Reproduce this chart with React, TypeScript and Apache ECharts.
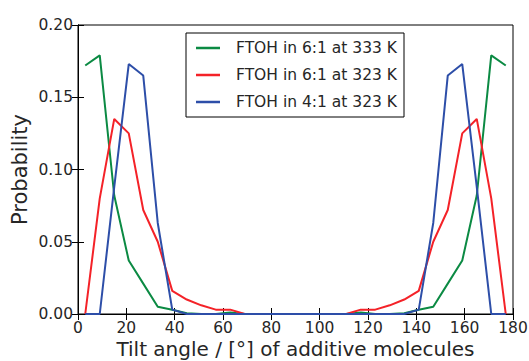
import React, { useEffect, useRef } from "react";
import * as echarts from "echarts";

const angles = [3, 9, 15, 21, 27, 33, 39, 45, 51, 57, 63, 69, 75, 81, 87, 93, 99, 105, 111, 117, 123, 129, 135, 141, 147, 153, 159, 165, 171, 177];

const green333 = [0.172, 0.179, 0.082, 0.037, 0.021, 0.005, 0.003, 0.0005, 0, 0, 0.001, 0, 0, 0, 0, 0, 0, 0, 0, 0.001, 0, 0, 0.0005, 0.003, 0.005, 0.021, 0.037, 0.082, 0.179, 0.172];
const red323 = [0, 0.080, 0.135, 0.125, 0.072, 0.050, 0.016, 0.010, 0.006, 0.003, 0.003, 0, 0, 0, 0, 0, 0, 0, 0, 0.003, 0.003, 0.006, 0.010, 0.016, 0.050, 0.072, 0.125, 0.135, 0.080, 0];
const blue41 = [0, 0, 0.088, 0.173, 0.165, 0.063, 0.003, 0, 0, 0, 0, 0, 0, 0, 0, 0, 0, 0, 0, 0, 0, 0, 0, 0.003, 0.063, 0.165, 0.173, 0.088, 0, 0];

const seriesNames = ["FTOH in 6:1 at 333 K", "FTOH in 6:1 at 323 K", "FTOH in 4:1 at 323 K"];
const seriesValues = [green333, red323, blue41];
const colors = ["#0b8a43", "#f42228", "#2d4ea8"];

const FONT = "DejaVu Sans";
const TXT = "#262626";

export default function App() {
  const ref = useRef<HTMLDivElement>(null);
  useEffect(() => {
    if (!ref.current) return;
    const chart = echarts.init(ref.current, undefined, { renderer: "svg" });
    const tickStyle = { show: true, inside: true, length: 6, lineStyle: { color: "#000", width: 1 } };
    const lineStyle = { show: true, lineStyle: { color: "#000", width: 1 } };
    chart.setOption({
      animation: false,
      backgroundColor: "#fff",
      grid: {
        left: 78, right: 16, top: 25, bottom: 47,
        containLabel: false,
        outerBoundsMode: "none",
        show: true, borderColor: "#000", borderWidth: 1, backgroundColor: "transparent",
      },
      legend: {
        left: 186,
        top: 33,
        orient: "vertical",
        backgroundColor: "#fff",
        borderColor: "#000",
        borderWidth: 1,
        borderRadius: 0,
        padding: [7, 7, 7, 10],
        itemWidth: 24,
        itemHeight: 2.5,
        itemGap: 11,
        icon: "rect",
        textStyle: { fontFamily: FONT, fontSize: 15.5, color: TXT, lineHeight: 14, padding: [0, 0, 0, 11] },
        data: seriesNames,
      },
      xAxis: [
        {
          type: "value",
          min: 0,
          max: 180,
          interval: 20,
          name: "Tilt angle / [°] of additive molecules",
          nameLocation: "middle",
          nameGap: 25,
          nameMoveOverlap: false,
          nameTextStyle: { fontFamily: FONT, fontSize: 20, color: TXT, lineHeight: 20 },
          axisLine: lineStyle,
          axisTick: tickStyle,
          splitLine: { show: false },
          axisLabel: { fontFamily: FONT, fontSize: 15.5, color: TXT, margin: 6, lineHeight: 15 },
        },
        {
          type: "value",
          position: "top",
          min: 0,
          max: 180,
          interval: 20,
          axisLine: lineStyle,
          axisTick: tickStyle,
          splitLine: { show: false },
          axisLabel: { show: false },
        },
      ],
      yAxis: [
        {
          type: "value",
          min: 0,
          max: 0.2,
          interval: 0.05,
          name: "Probability",
          nameLocation: "middle",
          nameGap: 48,
          nameMoveOverlap: false,
          nameTextStyle: { fontFamily: FONT, fontSize: 21, color: TXT },
          axisLine: lineStyle,
          axisTick: tickStyle,
          splitLine: { show: false },
          axisLabel: { fontFamily: FONT, fontSize: 15.5, color: TXT, margin: 5, formatter: (v: number) => v.toFixed(2) },
        },
        {
          type: "value",
          position: "right",
          min: 0,
          max: 0.2,
          interval: 0.05,
          axisLine: lineStyle,
          axisTick: tickStyle,
          splitLine: { show: false },
          axisLabel: { show: false },
        },
      ],
      series: seriesNames.map((name, i) => ({
        name,
        type: "line",
        xAxisIndex: 0,
        yAxisIndex: 0,
        showSymbol: false,
        symbol: "none",
        color: colors[i],
        lineStyle: { color: colors[i], width: 2 },
        data: angles.map((a, j) => [a, seriesValues[i][j]]),
      })),
    });
    return () => chart.dispose();
  }, []);
  return <div ref={ref} style={{ position: "fixed", left: 0, top: 0, width: 529, height: 361 }} />;
}
